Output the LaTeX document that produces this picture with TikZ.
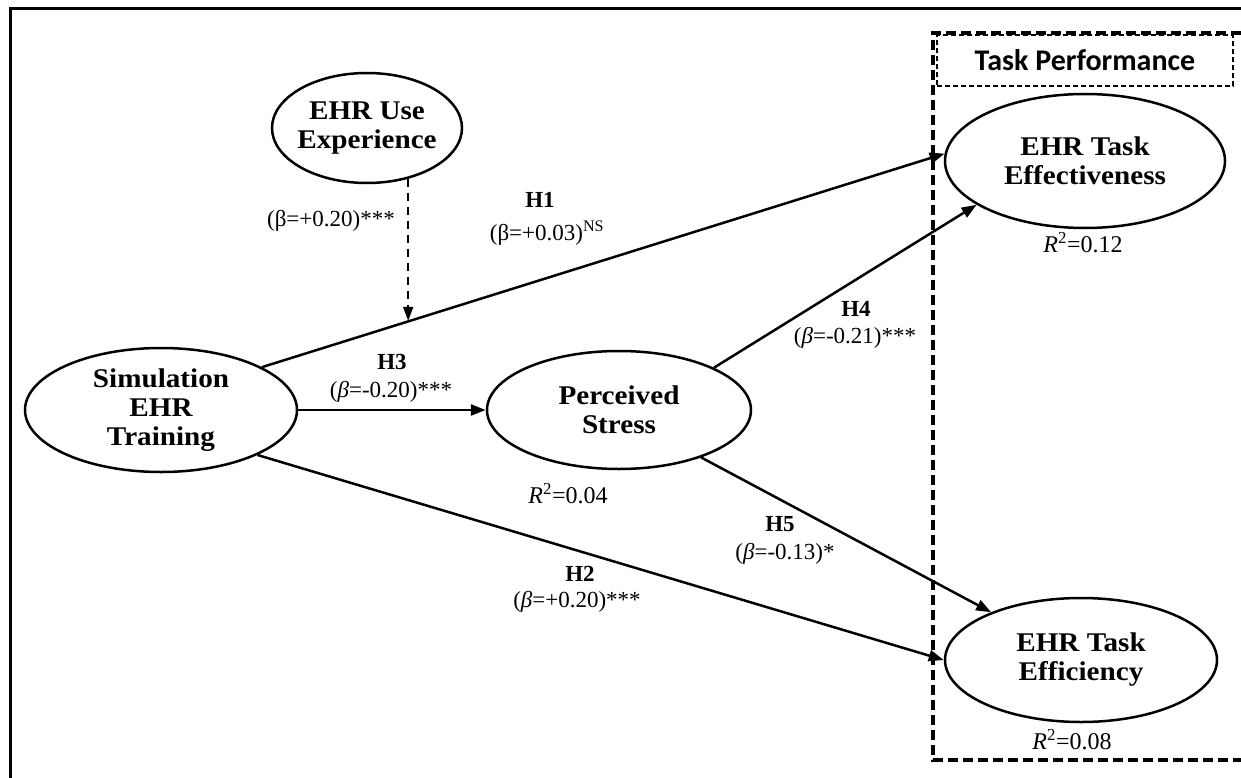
\documentclass[tikz,border=0pt]{standalone}
\usepackage{fontspec}
\setmainfont{Liberation Serif}
\newfontfamily\nodefont[FakeStretch=1.08]{Liberation Serif}
\newfontfamily\tpfont{Carlito}
\usetikzlibrary{shapes.geometric,arrows.meta}
\begin{document}
\begin{tikzpicture}[x=1pt,y=-1pt,
  latent/.style={ellipse, draw, line width=2.5pt, inner sep=0pt},
  ntext/.style={font=\nodefont\fontsize{27}{29}\selectfont\bfseries, align=center, inner sep=0pt},
  lbl/.style={font=\fontsize{23}{25}\selectfont, inner sep=0pt},
  hlbl/.style={font=\fontsize{23}{25}\selectfont\bfseries, inner sep=0pt},
  rlbl/.style={font=\fontsize{24}{26}\selectfont, inner sep=0pt},
  hyp/.style={line width=2.5pt, -{Triangle[length=15pt,width=11pt]}},
  modarrow/.style={line width=1.8pt, dash pattern=on 8pt off 6pt, -{Triangle[length=14pt,width=10pt]}},
  bigbox/.style={line width=3.5pt, dash pattern=on 10pt off 5pt},
  tpbox/.style={draw, line width=1.6pt, dash pattern=on 5pt off 3pt, inner sep=0pt,
     font=\tpfont\fontsize{30}{32}\selectfont\bfseries}
]
\useasboundingbox (0,0) rectangle (1241,778);
\fill[white] (0,0) rectangle (1241,778);

% outer frame (top and left visible)
\draw[line width=3pt] (10,778) -- (10,9) -- (1241,9);

% task performance box
\draw[bigbox] (1241,33) -- (933,33) -- (933,760) -- (1241,760);
\node[tpbox, minimum width=296, minimum height=51] (tp) at (1085,60.5) {Task Performance};

% constructs
\node[latent, minimum width=190, minimum height=110] (exp) at (367,128) {};
\node[ntext] (expt) at (exp) {EHR Use\\Experience};

\node[latent, minimum width=272, minimum height=124] (sim) at (161,410) {};
\node[ntext] (simt) at (sim) {Simulation\\EHR\\Training};

\node[latent, minimum width=264, minimum height=118] (stress) at (619,410) {};
\node[ntext] (stresst) at (stress) {Perceived\\Stress};

\node[latent, minimum width=280, minimum height=134] (eff) at (1085,161) {};
\node[ntext] (efft) at (eff) {EHR Task\\Effectiveness};

\node[latent, minimum width=272, minimum height=124] (effi) at (1081,660) {};
\node[ntext] (effit) at (effi) {EHR Task\\Efficiency};

% paths
\draw[hyp] (sim.23) -- (eff.177) coordinate[pos=0.217] (mod);
\draw[hyp] (sim.east) -- (stress.west);
\draw[hyp] (sim.-25) -- (effi.180);
\draw[hyp] (stress.24) -- (eff.202);
\draw[hyp] (stress.-30) -- (effi.152);
\draw[modarrow] (exp.-51) -- (exp.-51 |- mod);

% labels
\node[lbl, anchor=east] (modl) at (395,221) {(β=+0.20)***};
\node[hlbl] (h1) at (540,200) {H1};
\node[lbl] (h1l) at (547,233) {(β=+0.03)\textsuperscript{NS}};
\node[hlbl] (h3) at (392,362) {H3};
\node[lbl] (h3l) at (391,392) {(\textit{β}=-0.20)***};
\node[hlbl] (h4) at (856,309) {H4};
\node[lbl] (h4l) at (855,338) {(\textit{β}=-0.21)***};
\node[hlbl] (h5) at (780,524) {H5};
\node[lbl] (h5l) at (785,554) {(\textit{β}=-0.13)*};
\node[hlbl] (h2) at (580,574) {H2};
\node[lbl] (h2l) at (577,602) {(\textit{β}=+0.20)***};

\node[rlbl] (r1) at (568,494) {\textit{R}\textsuperscript{2}=0.04};
\node[rlbl] (r2) at (1083,243) {\textit{R}\textsuperscript{2}=0.12};
\node[rlbl] (r3) at (1072,740) {\textit{R}\textsuperscript{2}=0.08};
\end{tikzpicture}
\end{document}
